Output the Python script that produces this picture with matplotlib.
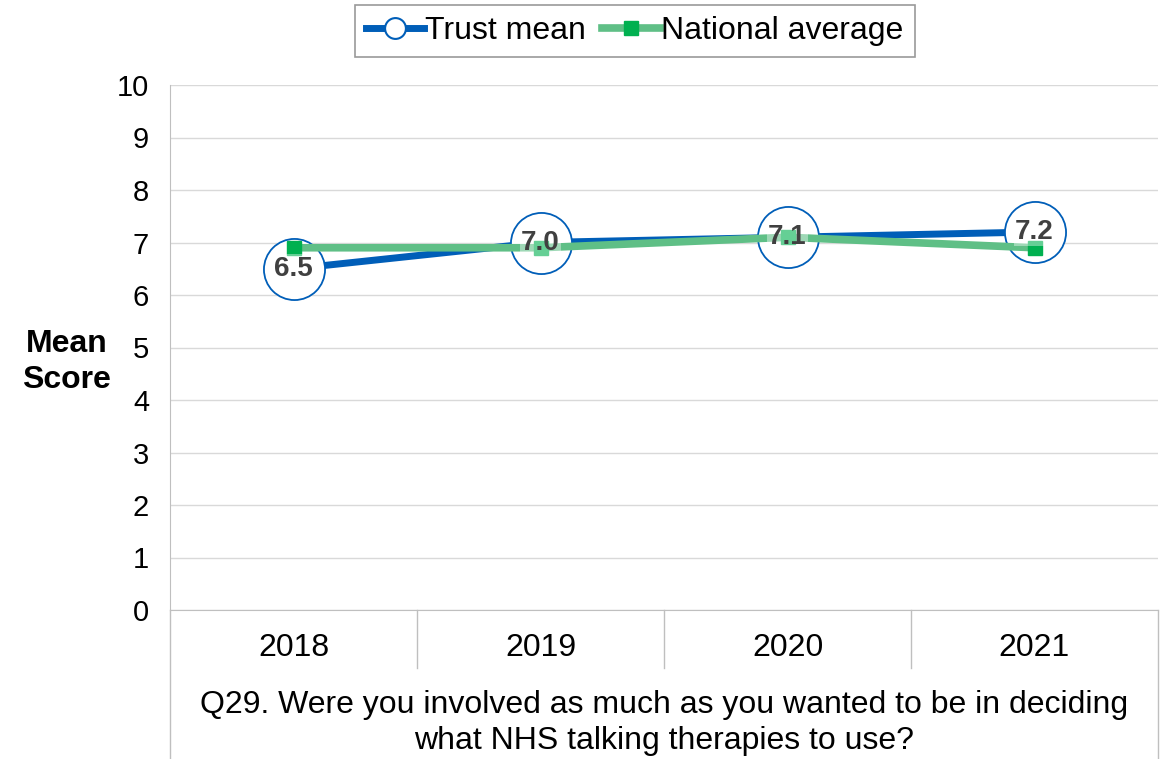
import matplotlib.pyplot as plt
from matplotlib.lines import Line2D

plt.rcParams['font.family'] = ['Liberation Sans', 'DejaVu Sans']

years = ['2018', '2019', '2020', '2021']
trust_mean = [6.5, 7.0, 7.1, 7.2]
national_avg = [6.9, 6.9, 7.1, 6.9]
question = 'Q29. Were you involved as much as you wanted to be in deciding\nwhat NHS talking therapies to use?'

BLUE = '#005EB8'
GREEN_LINE = '#5FBF86'
GREEN_MARK = '#00B050'
GRID = '#d9d9d9'

fig = plt.figure(figsize=(11.65, 7.59), dpi=100)
ax = fig.add_axes([170 / 1165, 1 - 610 / 759, 988 / 1165, 525 / 759])

x = list(range(len(years)))

# trust line, white circles hide the line inside them
ax.plot(x, trust_mean, color=BLUE, lw=5, zorder=2, solid_capstyle='butt')
ax.plot(x, trust_mean, ls='none', marker='o', ms=44, mfc='white',
        mec=BLUE, mew=1.3, zorder=2.5)
# national average on top
ax.plot(x, national_avg, color=GREEN_LINE, lw=5.5, marker='s', ms=10,
        mfc=GREEN_MARK, mec=GREEN_MARK, zorder=3)

for xi, v in zip(x, trust_mean):
    ax.text(xi, v, f'{v:.1f}', ha='center', va='center', fontsize=20,
            fontweight='bold', color='#404040', zorder=5,
            bbox=dict(boxstyle='square,pad=0.05', fc=(1, 1, 1, 0.4), ec='none'))

ax.set_xlim(-0.5, len(years) - 0.5)
ax.set_ylim(0, 10)
ax.set_yticks(range(0, 11))
ax.tick_params(axis='y', length=0, labelsize=21, pad=15)
ax.set_xticks([])
ax.grid(axis='y', color=GRID, lw=1)
ax.set_axisbelow(True)
for s in ['top', 'right']:
    ax.spines[s].set_visible(False)
ax.spines['left'].set_color('#bfbfbf')
ax.spines['bottom'].set_color('#bfbfbf')

ax.set_ylabel('Mean\nScore', rotation=0, fontsize=23, fontweight='bold',
              ha='center', va='center', labelpad=0, linespacing=1.25)
ax.yaxis.set_label_coords(-0.105, 0.473)

# category table beneath the axis
row_h = 58 / 525
bottom = -149 / 525
for i in range(len(years) + 1):
    xf = i / len(years)
    y0 = bottom if i in (0, len(years)) else -row_h
    ax.plot([xf, xf], [0, y0], transform=ax.transAxes, color='#bfbfbf',
            lw=1, clip_on=False)
for i, yr in enumerate(years):
    ax.text((i + 0.5) / len(years), -38 / 525, yr, transform=ax.transAxes,
            ha='center', va='center', fontsize=23)
ax.text(0.5, -113 / 525, question, transform=ax.transAxes, ha='center', va='center',
        fontsize=23, linespacing=1.3)

handles = [
    Line2D([], [], color=BLUE, lw=5, marker='o', ms=15, mfc='white', mec=BLUE, mew=1.5),
    Line2D([], [], color=GREEN_LINE, lw=5.5, marker='s', ms=10, mfc=GREEN_MARK, mec=GREEN_MARK),
]
leg = fig.legend(handles, ['Trust mean', 'National average'], loc='center',
                 bbox_to_anchor=(635 / 1165, 1 - 31 / 759), ncol=2,
                 fontsize=23, frameon=True, fancybox=False, handlelength=1.8,
                 handletextpad=0.05, columnspacing=0.5, borderpad=0.35,
                 borderaxespad=0)
leg.get_frame().set_edgecolor('#808080')
leg.get_frame().set_linewidth(1.2)

fig.savefig('out.png', dpi=100)
